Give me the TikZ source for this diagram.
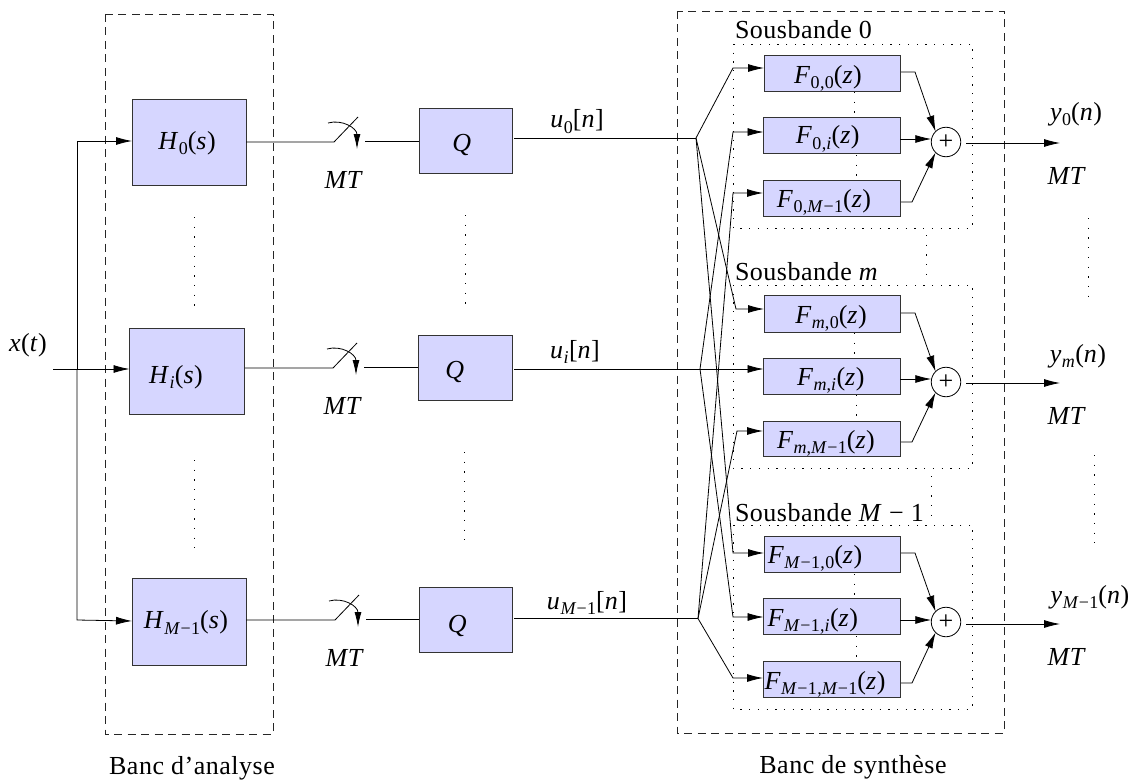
\documentclass[tikz,border=0pt]{standalone}
\usepackage{fontspec}
\setmainfont[LetterSpace=2]{Liberation Serif}
\usetikzlibrary{arrows.meta}
\definecolor{boxfill}{RGB}{214,214,255}
\newcommand{\V}[1]{\textit{#1}}
\newcommand{\Sb}[1]{\raisebox{-0.22em}{\fontsize{18}{18}\selectfont #1}}
\tikzset{
 x=1pt,y=-1pt,
 every node/.style={font=\fontsize{26}{28}\selectfont,inner sep=0pt,outer sep=0pt},
 block/.style={draw=black!80,fill=boxfill,line width=0.9pt,anchor=center},
 wire/.style={draw=black,line width=0.8pt},
 arr/.style={wire,-{Latex[length=16pt,width=8pt]}},
 dashbox/.style={draw=black!85,line width=0.8pt,dash pattern=on 8pt off 5.5pt},
 dotbox/.style={draw=black,line width=0.9pt,dash pattern=on 1.3pt off 7.4pt},
 dotv/.style={draw=black,line width=0.9pt,dash pattern=on 1.3pt off 8.4pt},
 sum/.style={circle,draw=black,line width=0.8pt,minimum size=29.5pt},
 lab/.style={anchor=base}
}
% name, x1,y1,x2,y2, text shift x (left is negative), baseline below centre, text
\newcommand{\blk}[8]{\node[block,minimum width=#4pt-#2pt,minimum height=#5pt-#3pt] (#1) at ({(#2+#4)/2},{(#3+#5)/2}) {\raisebox{-#7pt}[0pt][0pt]{\makebox[0pt][c]{\kern #6pt\kern #6pt #8}}};}
\begin{document}
\begin{tikzpicture}
\useasboundingbox (0,0) rectangle (1143,784);
% dashed and dotted frames
\draw[dashbox] (105,14) rectangle (273,734);
\draw[dashbox] (677,11) rectangle (1004,733);
\draw[dotbox] (733,44) rectangle (972,228);
\draw[dotbox] (733,285) rectangle (972,468);
\draw[dotbox] (733,525) rectangle (972,709);
% analysis blocks
\blk{h0}{132}{99}{246}{185}{-2}{7}{\V{H}\Sb{0}(\V{s})}
\blk{hi}{129.5}{328}{244.5}{414}{-11}{12}{\V{H}\Sb{\V{i}}(\V{s})}
\blk{hm}{132}{578}{246}{665}{-3}{7}{\V{H}\Sb{\V{M}−1}(\V{s})}
\blk{q0}{419}{108}{512}{173}{-3.5}{11}{\V{Q}}
\blk{qi}{418}{335}{512}{400}{-10}{10.5}{\V{Q}}
\blk{qm}{419}{587}{512}{652}{-8}{12.5}{\V{Q}}
% input
\node[lab] (xt) at (28,351) {\V{x}(\V{t})};
\coordinate (in) at (53,369);
\coordinate (bus) at (77,369);
\coordinate (b0) at (77,141);
\coordinate (bm) at (77,620);
\draw[arr] (in) -- (hi.west |- 0,369);
\draw[arr] (bus) -- (b0) -- (h0.west |- 0,141);
\draw[arr] (bus) -- (bm) -- (hm.west |- 0,621);
% switches: name, from, base y, out y, to, x offset
\newcommand{\sw}[6]{%
 \coordinate (#1a) at (334+#6,#3);
 \coordinate (#1t) at (358+#6,#3-25);
 \coordinate (#1c) at (365+#6,#4);
 \draw[wire] (#2) -- (#1a) -- (#1t);
 \draw[wire] (#1c) -- (#5);
 \draw[wire,-{Latex[length=15pt,width=7pt]}] (328+#6,#3-19) .. controls (342+#6,#3-23) and (357+#6,#3-14) .. (357+#6,#3+7);
}
\coordinate (h0o) at (246,142);
\coordinate (hio) at (245,368);
\coordinate (hmo) at (246,620);
\coordinate (q0i) at (419,141);
\coordinate (qii) at (418,367);
\coordinate (qmi) at (419,619);
\sw{s0}{h0o}{142}{141}{q0i}{0}
\sw{si}{hio}{368}{367}{qii}{-1}
\sw{sm}{hmo}{620}{619}{qmi}{1}
\node[lab] (mta) at (344,188) {\V{MT}};
\node[lab] (mtb) at (343,414) {\V{MT}};
\node[lab] (mtc) at (345,666) {\V{MT}};
% vertical dots
\draw[dotv] (194,217) -- (194,307);
\draw[dotv] (194,460) -- (194,548);
\draw[dotv] (465.5,215) -- (465.5,304);
\draw[dotv] (464.5,452) -- (464.5,540);
% quantiser outputs
\node[lab] (u0) at (577,127.5) {\V{u}\Sb{0}[\V{n}]};
\node[lab] (ui) at (575,358) {\V{u}\Sb{\V{i}}[\V{n}]};
\node[lab] (um) at (587,609) {\V{u}\Sb{\V{M}−1}[\V{n}]};
% synthesis blocks
\blk{f00}{764}{55}{900}{91.5}{-4}{10}{\V{F}\Sb{0,0}(\V{z})}
\blk{f0i}{763.5}{117}{900}{153}{-4}{9}{\V{F}\Sb{0,\V{i}}(\V{z})}
\blk{f0m}{763}{180}{900}{216}{-7.5}{9}{\V{F}\Sb{0,\V{M}−1}(\V{z})}
\blk{fm0}{764}{295}{900}{332}{-1}{9.5}{\V{F}\Sb{\V{m},0}(\V{z})}
\blk{fmi}{763.5}{358}{900}{394}{-1}{9}{\V{F}\Sb{\V{m},\V{i}}(\V{z})}
\blk{fmm}{763}{421}{900}{456}{-5.5}{9.5}{\V{F}\Sb{\V{m},\V{M}−1}(\V{z})}
\blk{fl0}{764}{536}{900}{572}{-17}{9}{\V{F}\Sb{\V{M}−1,0}(\V{z})}
\blk{fli}{763.5}{598}{900}{634}{-19}{10}{\V{F}\Sb{\V{M}−1,\V{i}}(\V{z})}
\blk{flm}{763}{661}{900}{697}{-6.5}{10}{\V{F}\Sb{\V{M}−1,\V{M}−1}(\V{z})}
% sums
\node[sum] (s0) at (946,142) {+};
\node[sum] (sm) at (946,382) {+};
\node[sum] (sl) at (946,622) {+};
% dots between F blocks
\draw[dotv] (854,92) -- (854,117); \draw[dotv] (856,155) -- (856,180);
\draw[dotv] (854,333) -- (854,358); \draw[dotv] (856,395) -- (856,420);
\draw[dotv] (854,574) -- (854,598); \draw[dotv] (856,636) -- (856,660);
\draw[dotv] (926,235) -- (926,280);
\draw[dotv] (931,476) -- (931,522);
\draw[dotv] (1088,218) -- (1088,305);
\draw[dotv] (1094.5,455) -- (1094.5,543);
% forks
\coordinate (j0) at (696,138);
\coordinate (ji) at (700,369);
\coordinate (jm) at (698,618.5);
\draw[wire] (514,138) -- (j0);
\draw[wire] (514,369) -- (ji);
\draw[wire] (514,618.5) -- (jm);
\draw[arr] (j0) -- (733,68) -- (f00.west |- 0,68);
\draw[arr] (j0) -- (736,309) -- (fm0.west |- 0,309);
\draw[arr] (j0) -- (733,553) -- (fl0.west |- 0,553);
\draw[arr] (ji) -- (733,132) -- (f0i.west |- 0,132);
\draw[arr] (ji) -- (fmi.west |- 0,369);
\draw[arr] (ji) -- (733,617) -- (fli.west |- 0,617);
\draw[arr] (jm) -- (733,193) -- (f0m.west |- 0,193);
\draw[arr] (jm) -- (737,431) -- (fmm.west |- 0,431);
\draw[arr] (jm) -- (733,678) -- (flm.west |- 0,678);
% adders
\draw[arr] (901,72) -- (915,72) -- (s0.north west);
\draw[arr] (900,139) -- (s0.west |- 0,139);
\draw[arr] (901,202) -- (912,202) -- (s0.south west);
\draw[arr] (901,313) -- (915,313) -- (sm.north west);
\draw[arr] (900,379) -- (sm.west |- 0,379);
\draw[arr] (901,442) -- (912,442) -- (sm.south west);
\draw[arr] (901,553) -- (915,553) -- (sl.north west);
\draw[arr] (900,620) -- (sl.west |- 0,620);
\draw[arr] (901,683) -- (912,683) -- (sl.south west);
% outputs
\coordinate (o0) at (1060,143);
\coordinate (om) at (1060,383);
\coordinate (ol) at (1060,624);
\draw[arr] (966,143) -- (o0);
\draw[arr] (966,383) -- (om);
\draw[arr] (966,624) -- (ol);
\node[lab] (y0) at (1076,120) {\V{y}\Sb{0}(\V{n})};
\node[lab] (ym) at (1078,362) {\V{y}\Sb{\V{m}}(\V{n})};
\node[lab] (yl) at (1090,603) {\V{y}\Sb{\V{M}−1}(\V{n})};
\node[lab] (mt0) at (1067,184) {\V{MT}};
\node[lab] (mtm) at (1067,424) {\V{MT}};
\node[lab] (mtl) at (1067,665) {\V{MT}};
% titles
\node[anchor=base west] (t0) at (735,39) {Sousbande 0};
\node[anchor=base west] (tm) at (735,280) {Sousbande \V{m}};
\node[anchor=base west] (tl) at (735,521) {Sousbande \V{M} − 1};
\node[lab] (ba) at (192,774) {Banc d’analyse};
\node[lab] (bs) at (853,773) {Banc de synthèse};
\end{tikzpicture}
\end{document}
